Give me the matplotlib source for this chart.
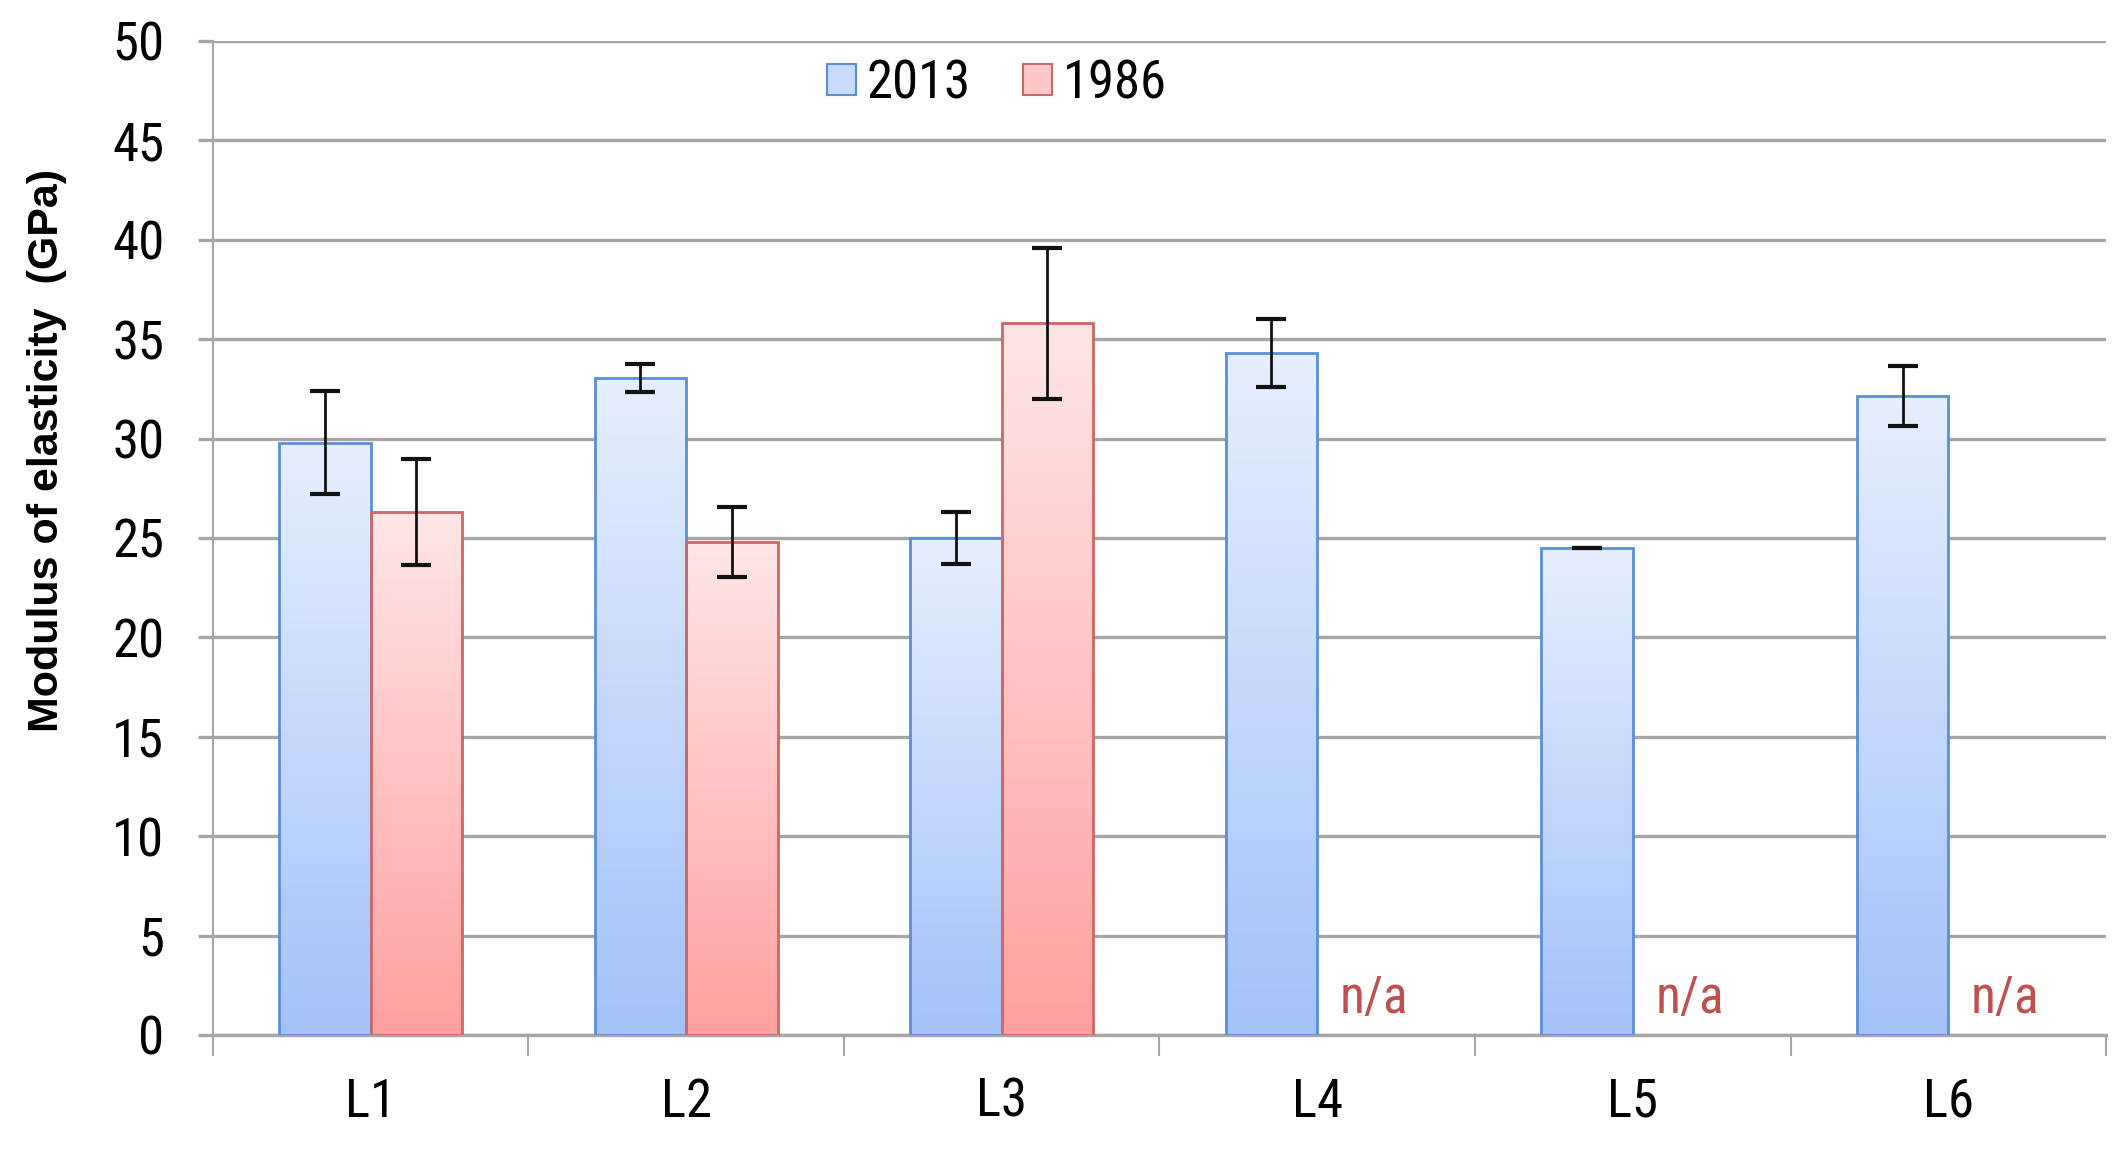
import numpy as np
import matplotlib
matplotlib.use('Agg')
from matplotlib import pyplot as plt
from matplotlib import colors
from matplotlib.patches import Patch

plt.rcParams['font.family'] = ['Roboto Condensed', 'Liberation Sans', 'DejaVu Sans']

# data
sites = ['L1', 'L2', 'L3', 'L4', 'L5', 'L6']
mod_2013 = [29.8, 33.05, 25.0, 34.3, 24.5, 32.15]
err_2013 = [2.6, 0.7, 1.3, 1.7, 0.0, 1.5]
mod_1986 = [26.3, 24.8, 35.8, np.nan, np.nan, np.nan]
err_1986 = [2.65, 1.75, 3.8, np.nan, np.nan, np.nan]
legend_labels = ['2013', '1986']
yticks = [0, 5, 10, 15, 20, 25, 30, 35, 40, 45, 50]


def gradient_bars(ax, bars, top_color, bottom_color):
    cmap = colors.LinearSegmentedColormap.from_list('g', [bottom_color, top_color])
    grad = np.linspace(0, 1, 256).reshape(-1, 1)
    for bar in bars:
        x0, y0 = bar.get_x(), bar.get_y()
        w, h = bar.get_width(), bar.get_height()
        if not np.isfinite(h):
            continue
        im = ax.imshow(grad, cmap=cmap, aspect='auto', origin='lower',
                       extent=(x0, x0 + w, y0, y0 + h), zorder=bar.get_zorder() - 0.1)
        im.set_clip_path(bar)


fig = plt.figure(figsize=(21.28, 11.51), dpi=100)
ax = fig.add_axes([0.100, 0.1008, 0.8897, 0.8636])

x = np.arange(len(sites))
w = 0.29
bars_a = ax.bar(x - w / 2, mod_2013, w, facecolor='none', edgecolor='#5a8fd8', linewidth=2.0, zorder=3)
bars_b = ax.bar(x + w / 2, mod_1986, w, facecolor='none', edgecolor='#d06666', linewidth=2.0, zorder=3)
gradient_bars(ax, bars_a, '#e6efff', '#a3c2f8')
gradient_bars(ax, bars_b, '#ffe6e6', '#ffa0a0')

ax.errorbar(x - w / 2, mod_2013, yerr=err_2013, fmt='none', ecolor='#111111',
            elinewidth=2.0, capsize=11, capthick=3, zorder=4)
ax.errorbar(x + w / 2, mod_1986, yerr=err_1986, fmt='none', ecolor='#111111',
            elinewidth=2.0, capsize=11, capthick=3, zorder=4)

for i, v in enumerate(mod_1986):
    if np.isnan(v):
        ax.text(i + 0.18, 1.8, 'n/a', color='#c0504d', fontsize=37, ha='center', va='center', zorder=5)

ax.set_xlim(-0.5, len(sites) - 0.5)
ax.set_ylim(0, 50)
ax.set_yticks(yticks)
ax.yaxis.grid(True, color='#a6a6a6', linewidth=2.4, zorder=0)
ax.set_axisbelow(True)

# category boundaries as ticks, labels centred between them
ax.set_xticks(np.arange(len(sites) + 1) - 0.5)
ax.set_xticklabels([])
ax.set_xticks(x, minor=True)
ax.set_xticklabels(sites, minor=True)
ax.tick_params(axis='x', which='major', length=15, width=1.5, color='#a6a6a6', direction='out')
ax.tick_params(axis='x', which='minor', length=0, pad=30, labelsize=38)
ax.tick_params(axis='y', length=11, width=2.4, color='#a6a6a6', pad=24, labelsize=38)

for side in ['top', 'right']:
    ax.spines[side].set_visible(False)
ax.spines['left'].set_color('#a6a6a6')
ax.spines['left'].set_linewidth(1.5)
ax.spines['bottom'].set_color('#a6a6a6')
ax.spines['bottom'].set_linewidth(2.4)

ax.set_ylabel('Modulus of elasticity  (GPa)', fontsize=31, fontweight='bold',
              family=['Liberation Sans', 'DejaVu Sans'])
ax.yaxis.set_label_coords(-0.077, 0.588)

handles = [Patch(facecolor='#c9dbfb', edgecolor='#5a8fd8', linewidth=1.5),
           Patch(facecolor='#ffc9c9', edgecolor='#d06666', linewidth=1.5)]
ax.legend(handles, legend_labels, loc='center', bbox_to_anchor=(0.414, 0.957), ncol=2,
          frameon=False, fontsize=38, handlelength=0.55, handleheight=0.55,
          handletextpad=0.2, columnspacing=1.0)

fig.savefig('out.png', dpi=100, facecolor='white')
